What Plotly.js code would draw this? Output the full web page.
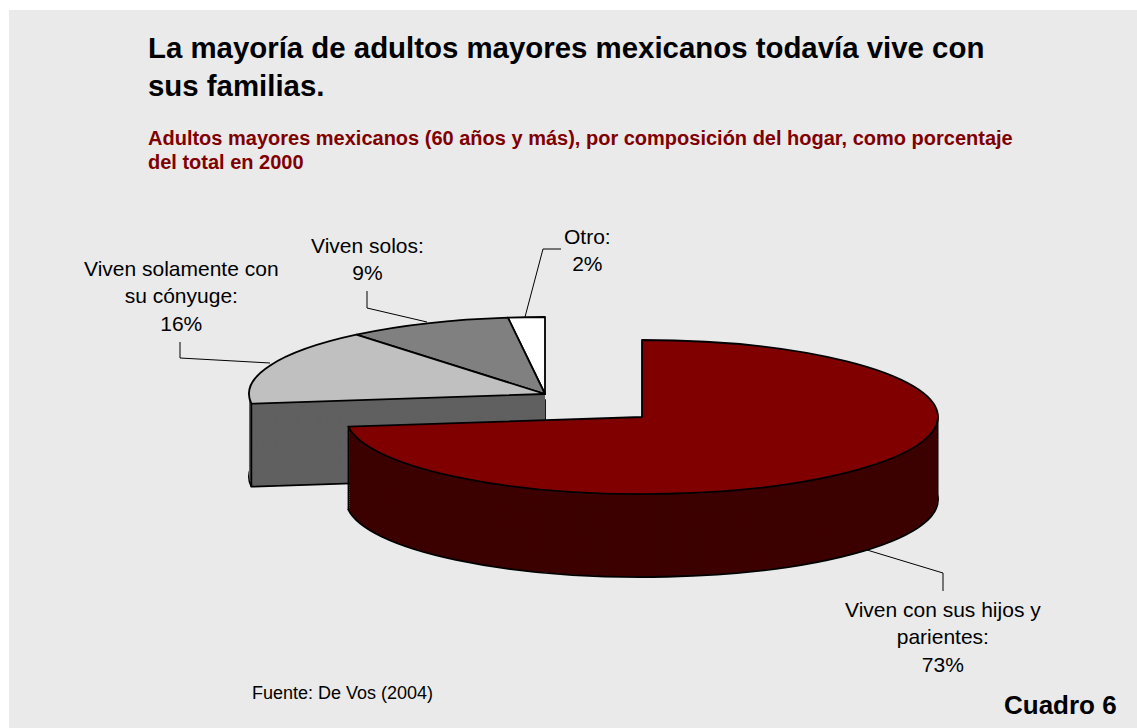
<!DOCTYPE html>
<html>
<head>
<meta charset="utf-8">
<script src="https://cdn.plot.ly/plotly-3.0.1.min.js"></script>
<style>
  html, body { margin: 0; padding: 0; background: #ffffff; overflow: hidden; }
  #chart { width: 1137px; height: 728px; }
</style>
</head>
<body>
<div id="chart"></div>
<script>
// ---------------- data ----------------
const categories = ['Otro', 'Viven solos', 'Viven solamente con su cónyuge', 'Viven con sus hijos y parientes'];
const labelLines = ['Otro:', 'Viven solos:', 'Viven solamente con<br>su cónyuge:', 'Viven con sus hijos y<br>parientes:'];
const values = [2, 9, 16, 73];
const topColors = ['#FFFFFF', '#808080', '#C0C0C0', '#800000'];
const sideColors = ['#606060', '#606060', '#606060', '#3C0000'];
const explodedIndex = 3;

const titleText = 'La mayoría de adultos mayores mexicanos todavía vive con<br>sus familias.';
const subtitleLines = ['Adultos mayores mexicanos (60 años y más), por composición del hogar, como porcentaje', 'del total en 2000'];
const sourceText = 'Fuente: De Vos (2004)';
const boxText = 'Cuadro 6';

// ---------------- layout helpers ----------------
const W = 1137, H = 728;
const X = px => px / W;
const Y = py => 1 - py / H;
const FONT = 'Liberation Sans, Arial, Helvetica, sans-serif';

// 3D look: ellipse semi-axes, depth and centres (pixels)
const A = 296, B = 77, DEPTH = 83, N = 42;
const restCenter = { x: 545, y: 394 };
const explodedCenter = { x: 642, y: 417 };
const NONE = 'rgba(0,0,0,0)';
const total = values.reduce((s, v) => s + v, 0);
// first slice starts at 12 o'clock and runs counterclockwise
const startRotation = -360 * values[0] / total;

const traces = [];
const layerInfo = [];
function addLayer(exploded, i) {
  const mine = values.map((v, j) => (j === explodedIndex) === exploded);
  const colors = values.map((v, j) => mine[j] ? (i === 0 ? topColors[j] : sideColors[j]) : NONE);
  const lw = values.map((v, j) => mine[j] && (i === 0 || i === N) ? 1.8 : 0);
  traces.push({
    type: 'pie',
    labels: categories,
    values: values,
    sort: false,
    direction: 'counterclockwise',
    rotation: startRotation,
    textinfo: 'none',
    hoverinfo: 'skip',
    showlegend: false,
    domain: { x: [X(568 - 300), X(568 + 300)], y: [0.5 - 300 / H, 0.5 + 300 / H] },
    marker: { colors: colors, line: { color: '#000000', width: lw } }
  });
  layerInfo.push({ exploded: exploded, off: DEPTH * i / N });
}
for (let i = N; i >= 0; i--) addLayer(false, i);
for (let i = N; i >= 0; i--) addLayer(true, i);

// labels
const labelPos = [
  { x: 587, y: 250 },
  { x: 367, y: 259 },
  { x: 181, y: 296 },
  { x: 943, y: 637 }
];
const annotations = values.map((v, j) => ({
  xref: 'paper', yref: 'paper', x: X(labelPos[j].x), y: Y(labelPos[j].y),
  xanchor: 'center', yanchor: 'middle', align: 'center', showarrow: false,
  text: labelLines[j] + '<br>' + v + '%',
  font: { family: FONT, size: 21, color: '#000000' }
}));
const subY = [137.5, 162];
subtitleLines.forEach((t, k) => {
  annotations.push({
    xref: 'paper', yref: 'paper', x: X(146), y: Y(subY[k]), xanchor: 'left', yanchor: 'middle', align: 'left',
    showarrow: false, text: '<b>' + t + '</b>',
    font: { family: FONT, size: 20, color: '#800000' }
  });
});
annotations.push({
  xref: 'paper', yref: 'paper', x: X(250), y: Y(692.5), xanchor: 'left', yanchor: 'middle',
  showarrow: false, text: sourceText, font: { family: FONT, size: 18, color: '#000000' }
});
annotations.push({
  xref: 'paper', yref: 'paper', x: X(1119), y: Y(705), xanchor: 'right', yanchor: 'middle',
  showarrow: false, text: '<b>' + boxText + '</b>', font: { family: FONT, size: 26, color: '#000000' }
});

// leader lines
const leaders = [
  [[561, 249], [543, 249], [525, 317]],
  [[367, 291], [367, 308], [427, 322]],
  [[180, 342], [180, 358], [270, 363]],
  [[867, 550], [943, 573], [943, 591]]
];
const shapes = [{
  type: 'rect', xref: 'paper', yref: 'paper', x0: X(9), x1: 1, y0: 0, y1: Y(10),
  fillcolor: '#EAEAEA', line: { width: 0 }, layer: 'below'
}];
leaders.forEach(pts => {
  shapes.push({
    type: 'path', xref: 'paper', yref: 'paper', layer: 'above',
    path: pts.map((p, k) => (k ? 'L' : 'M') + X(p[0]) + ',' + Y(p[1])).join(' '),
    line: { color: '#000000', width: 1 }
  });
});

// silhouette edges of the extruded pie (derived from the slice boundary angle)
const cutFrac = values.slice(0, explodedIndex).reduce((s, v) => s + v, 0) / total;
const phi = -2 * Math.PI * cutFrac;
function vEdge(cx, cy, w) {
  shapes.push({
    type: 'line', xref: 'paper', yref: 'paper', layer: 'above',
    x0: X(cx), x1: X(cx), y0: Y(cy), y1: Y(cy + DEPTH),
    line: { color: '#000000', width: w }
  });
}
vEdge(restCenter.x + A * Math.sin(phi), restCenter.y - B * Math.cos(phi), 1.8);
vEdge(explodedCenter.x + A * Math.sin(phi), explodedCenter.y - B * Math.cos(phi), 1.5);
vEdge(explodedCenter.x + A, explodedCenter.y, 1);

const layout = {
  width: W, height: H,
  margin: { l: 0, r: 0, t: 0, b: 0, pad: 0 },
  paper_bgcolor: '#FFFFFF',
  plot_bgcolor: 'rgba(0,0,0,0)',
  showlegend: false,
  title: {
    text: '<b>' + titleText + '</b>',
    xref: 'paper', yref: 'container', x: X(148), xanchor: 'left', y: Y(58), yanchor: 'middle',
    font: { family: FONT, size: 29.4, color: '#000000' }
  },
  annotations: annotations,
  shapes: shapes
};

Plotly.newPlot('chart', traces, layout, { staticPlot: true, displayModeBar: false }).then(gd => {
  const groups = gd.querySelectorAll('.pielayer .trace');
  groups.forEach((g, idx) => {
    const info = layerInfo[idx];
    const cd0 = gd.calcdata[idx][0];
    const c = info.exploded ? explodedCenter : restCenter;
    const sx = A / cd0.r, sy = B / cd0.r;
    g.setAttribute('transform',
      'translate(' + c.x + ',' + (c.y + info.off) + ') scale(' + sx + ',' + sy + ') translate(' + (-cd0.cx) + ',' + (-cd0.cy) + ')');
    g.querySelectorAll('path').forEach(p => { p.style.vectorEffect = 'non-scaling-stroke'; });
  });
});
</script>
</body>
</html>
